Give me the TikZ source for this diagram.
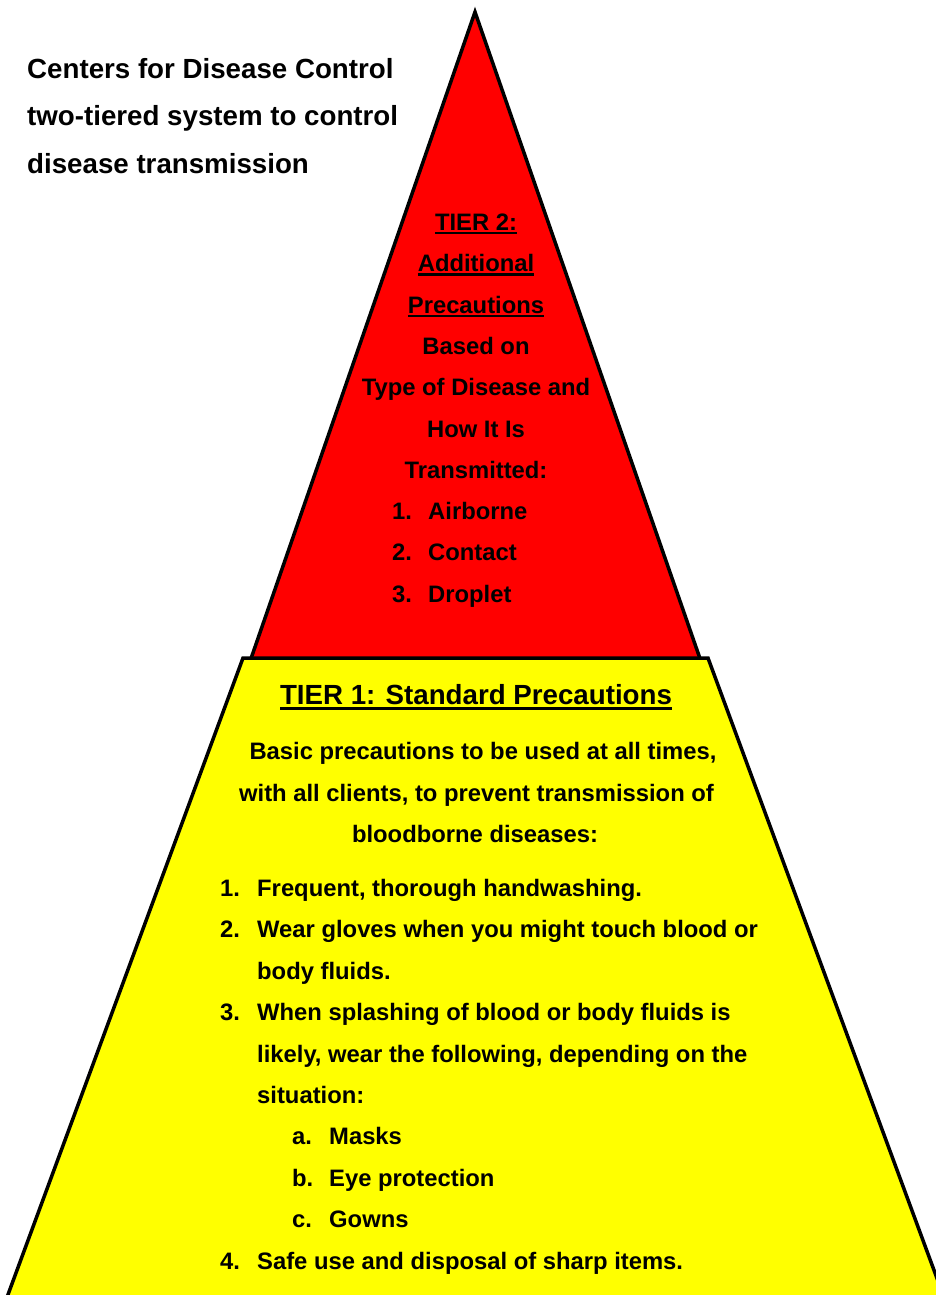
\documentclass[tikz,border=0pt]{standalone}
\usepackage{fontspec}
\setmainfont{Liberation Sans}
\newcommand{\bodyf}{\fontsize{23.8}{41.4}\selectfont\bfseries}
\newcommand{\headf}{\fontsize{27.7}{47.5}\selectfont\bfseries}
\newcommand{\myul}[2]{\setbox0\hbox{#2}\rlap{\rule[-#1]{\wd0}{2.2pt}}\box0}
\definecolor{tierred}{RGB}{255,0,0}
\definecolor{tieryellow}{RGB}{255,255,0}
\tikzset{
  shapeline/.style={draw=black, line width=3.5pt, line join=miter},
  bl/.style={inner sep=0pt, anchor=base west, font=\bodyf},
  bc/.style={inner sep=0pt, anchor=base, font=\bodyf},
  hl/.style={inner sep=0pt, anchor=base west, font=\headf},
  hc/.style={inner sep=0pt, anchor=base, font=\headf},
}
\begin{document}
\begin{tikzpicture}[x=1pt, y=-1pt]
\useasboundingbox (0,0) rectangle (935,1295);
% tier 2 triangle
\filldraw[shapeline, fill=tierred] (475,12) -- (700.5,660) -- (250.5,660) -- cycle;
% tier 1 trapezoid
\filldraw[shapeline, fill=tieryellow] (243,658) -- (708,658) -- (945,1300) -- (6,1300) -- cycle;
\begin{scope}[shift={(0,1.5)}]
% title
\node[hl] (t1) at (27,77) {Centers for Disease Control};
\node[hl] (t2) at (27,124.5) {two-tiered system to control};
\node[hl] (t3) at (27,172) {disease transmission};
% tier 2 text
\node[bc] (a1) at (476,228.5) {\myul{4pt}{TIER 2:}};
\node[bc] (a2) at (476,270) {\myul{4pt}{Additional}};
\node[bc] (a3) at (476,311.5) {\myul{4pt}{Precautions}};
\node[bc] (a4) at (476,352.5) {Based on};
\node[bc] (a5) at (476,394) {Type of Disease and};
\node[bc] (a6) at (476,435.5) {How It Is};
\node[bc] (a7) at (476,476.5) {Transmitted:};
\node[bl] (n1) at (392,517.5) {1.};
\node[bl] (i1) at (428,517.5) {Airborne};
\node[bl] (n2) at (392,559) {2.};
\node[bl] (i2) at (428,559) {Contact};
\node[bl] (n3) at (392,600.5) {3.};
\node[bl] (i3) at (428,600.5) {Droplet};
% tier 1 text
\node[hc] (h1) at (476,703) {\myul{5pt}{TIER 1: Standard Precautions}};
\node[bc] (b1) at (483,758) {Basic precautions to be used at all times,};
\node[bc] (b2) at (476.5,799.5) {with all clients, to prevent transmission of};
\node[bc] (b3) at (475,841) {bloodborne diseases:};
\node[bl] (m1) at (220,895) {1.};
\node[bl] (j1) at (257,895) {Frequent, thorough handwashing.};
\node[bl] (m2) at (220,936.4) {2.};
\node[bl] (j2) at (257,936.4) {Wear gloves when you might touch blood or};
\node[bl] (j2b) at (257,977.8) {body fluids.};
\node[bl] (m3) at (220,1019.2) {3.};
\node[bl] (j3) at (257,1019.2) {When splashing of blood or body fluids is};
\node[bl] (j3b) at (257,1060.6) {likely, wear the following, depending on the};
\node[bl] (j3c) at (257,1102) {situation:};
\node[bl] (sa) at (292,1143.4) {a.};
\node[bl] (ka) at (329,1143.4) {Masks};
\node[bl] (sb) at (292,1184.8) {b.};
\node[bl] (kb) at (329,1184.8) {Eye protection};
\node[bl] (sc) at (292,1226.2) {c.};
\node[bl] (kc) at (329,1226.2) {Gowns};
\node[bl] (m4) at (220,1267.6) {4.};
\node[bl] (j4) at (257,1267.6) {Safe use and disposal of sharp items.};
\end{scope}
\end{tikzpicture}
\end{document}
